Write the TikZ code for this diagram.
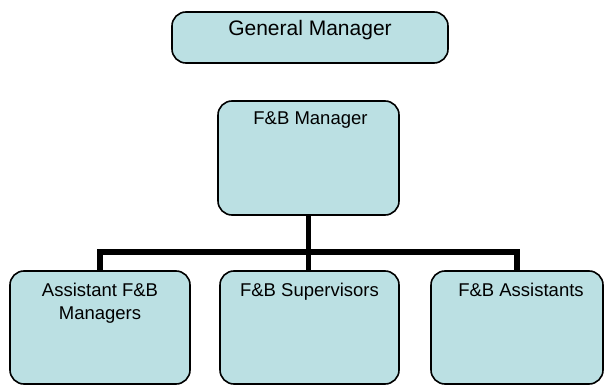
\documentclass[tikz,border=0pt]{standalone}
\usepackage{fontspec}
\setmainfont{Liberation Sans}
\definecolor{boxfill}{RGB}{187,224,227}
\begin{document}
\begin{tikzpicture}[x=1pt,y=-1pt,
  box/.style={draw=black, line width=1.6pt, fill=boxfill, rounded corners=14pt, inner sep=0pt},
  lbl/.style={font=\fontsize{18.5}{22.5}\selectfont, anchor=north, inner sep=0pt, align=center, text=black},
  conn/.style={line width=5.5pt}]
\useasboundingbox (0,0) rectangle (604,387);
\node[box, minimum width=276pt, minimum height=51pt] (gm) at (310,37.5) {};
\node[box, minimum width=181pt, minimum height=114pt] (fbm) at (308.5,158) {};
\node[box, minimum width=180pt, minimum height=113pt] (am) at (100,327.5) {};
\node[box, minimum width=179pt, minimum height=113pt] (sup) at (309.5,327.5) {};
\node[box, minimum width=172pt, minimum height=113pt] (as) at (517,327.5) {};
\node[lbl, font=\fontsize{21}{25}\selectfont] (gmt) at (310,20.5) {General Manager};
\node[lbl] (fbmt) at (310.5,111.5) {F\&B Manager};
\node[lbl] (amt) at (100,283) {Assistant F\&B\\Managers};
\node[lbl] (supt) at (309.5,283) {F\&B Supervisors};
\node[lbl] (ast) at (521,283) {F\&B Assistants};
\coordinate (bus) at (308,252);
\draw[conn] (fbm.south) -- (fbm.south |- bus);
\draw[conn] (am.north) -- (am.north |- bus) -- (as.north |- bus) -- (as.north);
\draw[conn] (sup.north -| fbm.south) -- (fbm.south |- bus);
\end{tikzpicture}
\end{document}
